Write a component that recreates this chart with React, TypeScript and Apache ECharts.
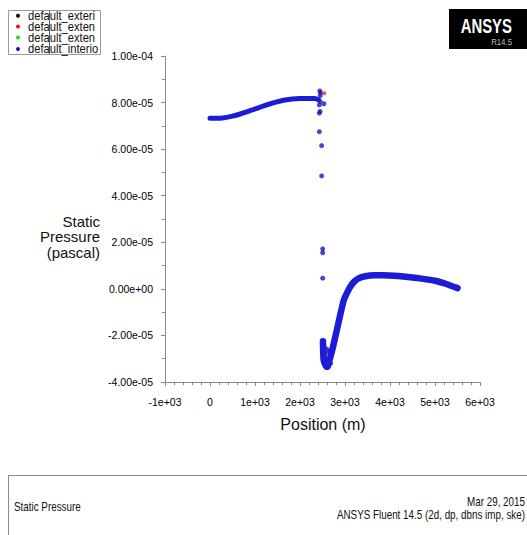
import React, { useEffect, useRef } from "react";
import * as echarts from "echarts";

// ---- data ----
const xTicks = [-1000, 0, 1000, 2000, 3000, 4000, 5000, 6000];
const yTicks = [-4e-5, -2e-5, 0, 2e-5, 4e-5, 6e-5, 8e-5, 1e-4];

// upstream branch (position m, static pressure Pa)
const upstreamX = [0, 220, 520, 890, 1260, 1630, 2000, 2330, 2410];
const upstreamY = [7.33e-5, 7.33e-5, 7.43e-5, 7.65e-5, 7.9e-5, 8.1e-5, 8.18e-5, 8.17e-5, 8.12e-5];

// downstream branch
const downstreamX = [2510, 2515, 2530, 2570, 2610, 2650, 2680, 2720, 2780, 2850, 2920, 2980, 3050, 3120, 3200, 3300, 3450, 3650, 3850, 4100, 4400, 4700, 5000, 5250, 5500];
const downstreamY = [-2.25e-5, -2.7e-5, -3.1e-5, -3.3e-5, -3.35e-5, -3.1e-5, -2.9e-5, -2.6e-5, -2.1e-5, -1.5e-5, -9e-6, -4.5e-6, -1.5e-6, 1e-6, 3e-6, 4.5e-6, 5.4e-6, 5.8e-6, 5.8e-6, 5.6e-6, 5.1e-6, 4.4e-6, 3.5e-6, 2.1e-6, 3e-7];

// scattered interior points near the step
const dotsX = [2440, 2455, 2450, 2445, 2430, 2530, 2445, 2430, 2430, 2481, 2481, 2504, 2504, 2504, 2505, 2505, 2512, 2540, 2600, 2620, 2560, 2560, 2640, 2700, 2680, 2760, 2830];
const dotsY = [8.5e-5, 8.42e-5, 8.3e-5, 8.05e-5, 7.9e-5, 7.95e-5, 7.62e-5, 7.55e-5, 6.75e-5, 6.15e-5, 4.85e-5, 1.72e-5, 1.55e-5, 4.6e-6, -2.3e-5, -2.55e-5, -3.0e-5, -2.5e-5, -2.6e-5, -3.0e-5, -3.25e-5, -2.8e-5, -2.7e-5, -2.75e-5, -3.2e-5, -2.25e-5, -1.7e-5];

// exterior (red) point
const redX = [2540];
const redY = [8.4e-5];

const legendNames = ["default_exteri", "default_exten", "default_exten", "default_interio"];
const legendColors = ["#000000", "#e01818", "#22dd22", "#1414c0"];

const zip = (a: number[], b: number[]) => a.map((v, i) => [v, b[i]]);

function fmtY(v: number): string {
  if (Math.abs(v) < 1e-12) return "0.00e+00";
  const s = v.toExponential(2);
  const [m, e] = s.split("e");
  const sign = e[0] === "-" ? "-" : "+";
  const d = e.replace(/^[+-]/, "").padStart(2, "0");
  return `${m}e${sign}${d}`;
}
function fmtX(v: number): string {
  if (Math.abs(v) < 1e-9) return "0";
  const s = v.toExponential(0);
  const [m, e] = s.split("e");
  const sign = e[0] === "-" ? "-" : "+";
  const d = e.replace(/^[+-]/, "").padStart(2, "0");
  return `${m}e${sign}${d}`;
}

export default function App() {
  const ref = useRef<HTMLDivElement>(null);
  useEffect(() => {
    if (!ref.current) return;
    const chart = echarts.init(ref.current, null, { renderer: "svg" });
    const font = "Liberation Sans, Arial, sans-serif";
    const legendGraphics: any[] = [];
    const rowY = [15.7, 26.5, 37.5, 49];
    legendNames.forEach((n, i) => {
      legendGraphics.push({
        type: "circle",
        shape: { cx: 18, cy: rowY[i], r: 2 },
        style: { fill: legendColors[i] },
      });
      legendGraphics.push({
        type: "text",
        x: 28,
        y: rowY[i],
        scaleX: 0.86,
        style: {
          text: n,
          fill: "#111",
          font: `13px ${font}`,
          textAlign: "left",
          textVerticalAlign: "middle",
        },
      });
    });
    chart.setOption({
      animation: false,
      backgroundColor: "#ffffff",
      grid: { left: 165, top: 56, width: 315, height: 326, containLabel: false },
      xAxis: {
        type: "value",
        min: xTicks[0],
        max: xTicks[xTicks.length - 1],
        interval: 1000,
        splitLine: { show: false },
        axisLine: { show: true, onZero: false, lineStyle: { color: "#8a8a8a", width: 1 } },
        axisTick: { show: true, length: 4, lineStyle: { color: "#8a8a8a" } },
        minorTick: { show: true, splitNumber: 5, length: 3, lineStyle: { color: "#8a8a8a" } },
        axisLabel: { formatter: fmtX, color: "#000", fontSize: 10.5, fontFamily: font, margin: 14 },
      },
      yAxis: {
        type: "value",
        min: yTicks[0],
        max: yTicks[yTicks.length - 1],
        interval: 2e-5,
        splitLine: { show: false },
        axisLine: { show: true, onZero: false, lineStyle: { color: "#8a8a8a", width: 1 } },
        axisTick: { show: true, length: 4, lineStyle: { color: "#8a8a8a" } },
        minorTick: { show: true, splitNumber: 2, length: 3, lineStyle: { color: "#8a8a8a" } },
        axisLabel: { formatter: fmtY, color: "#000", fontSize: 10.5, fontFamily: font, margin: 12 },
      },
      series: [
        {
          name: "default_interior",
          type: "line",
          data: zip(upstreamX, upstreamY),
          symbol: "none",
          smooth: 0.3,
          lineStyle: { color: "#1c1cd6", width: 5, cap: "round", join: "round" },
        },
        {
          name: "default_interior_2",
          type: "line",
          data: zip(downstreamX, downstreamY),
          symbol: "none",
          smooth: 0.2,
          lineStyle: { color: "#1c1cd6", width: 6.5, cap: "round", join: "round" },
        },
        {
          name: "default_interior_pts",
          type: "scatter",
          data: zip(dotsX, dotsY),
          symbol: "circle",
          symbolSize: 5,
          itemStyle: { color: "#1a1ab8" },
        },
        {
          name: "default_exterior",
          type: "scatter",
          data: zip(redX, redY),
          symbol: "circle",
          symbolSize: 4,
          itemStyle: { color: "#d83030" },
          z: 1,
        },
      ],
      graphic: [
        // legend box
        {
          type: "rect",
          shape: { x: 8.5, y: 10.5, width: 92, height: 44 },
          style: { fill: "#fff", stroke: "#9a9a9a", lineWidth: 1 },
        },
        ...legendGraphics,
        {
          type: "line",
          shape: { x1: 49.5, y1: 11, x2: 49.5, y2: 54 },
          style: { stroke: "#555", lineWidth: 1 },
        },
        // ANSYS logo
        {
          type: "rect",
          shape: { x: 449, y: 9, width: 78, height: 40 },
          style: { fill: "#000" },
        },
        {
          type: "text",
          x: 512,
          y: 26,
          scaleX: 0.71,
          style: {
            text: "ANSYS",
            fill: "#fff",
            font: `bold 21px ${font}`,
            textAlign: "right",
            textVerticalAlign: "middle",
          },
        },
        {
          type: "text",
          x: 512,
          y: 42,
          scaleX: 0.87,
          style: {
            text: "R14.5",
            fill: "#bdbdbd",
            font: `9px ${font}`,
            textAlign: "right",
            textVerticalAlign: "middle",
          },
        },
        // y axis title
        {
          type: "text",
          x: 100,
          y: 221,
          style: { text: "Static", fill: "#111", font: `15px ${font}`, textAlign: "right", textVerticalAlign: "middle" },
        },
        {
          type: "text",
          x: 100,
          y: 236.5,
          style: { text: "Pressure", fill: "#111", font: `15px ${font}`, textAlign: "right", textVerticalAlign: "middle" },
        },
        {
          type: "text",
          x: 100,
          y: 252,
          style: { text: "(pascal)", fill: "#111", font: `15px ${font}`, textAlign: "right", textVerticalAlign: "middle" },
        },
        // x axis title
        {
          type: "text",
          x: 323,
          y: 424,
          style: { text: "Position (m)", fill: "#111", font: `16px ${font}`, textAlign: "center", textVerticalAlign: "middle" },
        },
        // footer
        {
          type: "line",
          shape: { x1: 8, y1: 475.5, x2: 527, y2: 475.5 },
          style: { stroke: "#8a8a8a", lineWidth: 1 },
        },
        {
          type: "line",
          shape: { x1: 8.5, y1: 475, x2: 8.5, y2: 535 },
          style: { stroke: "#8a8a8a", lineWidth: 1 },
        },
        {
          type: "text",
          x: 14,
          y: 506.5,
          scaleX: 0.82,
          style: { text: "Static Pressure", fill: "#111", font: `12px ${font}`, textAlign: "left", textVerticalAlign: "middle" },
        },
        {
          type: "text",
          x: 525,
          y: 502,
          scaleX: 0.82,
          style: { text: "Mar 29, 2015", fill: "#111", font: `12px ${font}`, textAlign: "right", textVerticalAlign: "middle" },
        },
        {
          type: "text",
          x: 525,
          y: 515,
          scaleX: 0.82,
          style: {
            text: "ANSYS Fluent 14.5 (2d, dp, dbns imp, ske)",
            fill: "#111",
            font: `12px ${font}`,
            textAlign: "right",
            textVerticalAlign: "middle",
          },
        },
      ],
    });
    return () => chart.dispose();
  }, []);
  return (
    <div
      ref={ref}
      style={{ position: "absolute", left: 0, top: 0, width: 527, height: 535, background: "#fff" }}
    />
  );
}
